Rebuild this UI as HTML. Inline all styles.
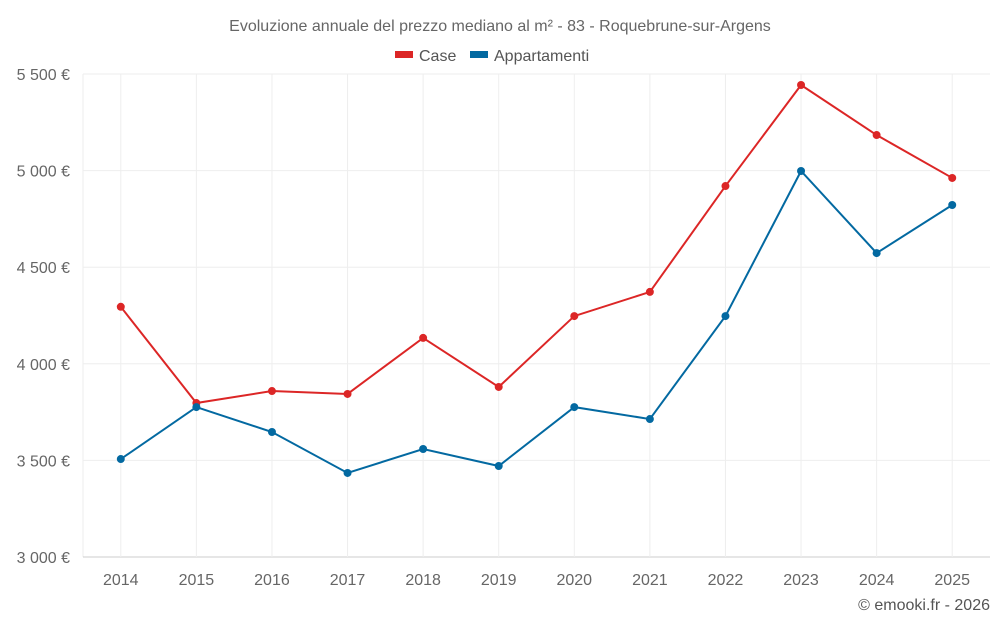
<!DOCTYPE html>
<html><head><meta charset="utf-8">
<style>
body{margin:0;background:#fff;font-family:"Liberation Sans",sans-serif;}
svg text{font-family:"Liberation Sans",sans-serif;}
</style></head>
<body>
<svg id="chart" width="1000" height="625" xmlns="http://www.w3.org/2000/svg">
<text x="500" y="31" text-anchor="middle" font-size="16" fill="#666">Evoluzione annuale del prezzo mediano al m² - 83 - Roquebrune-sur-Argens</text>
<g><rect x="395" y="51" width="18" height="7" fill="#dc2626"/><text x="419" y="61" font-size="16" fill="#555">Case</text></g>
<g><rect x="470" y="51" width="18" height="7" fill="#0369a1"/><text x="494" y="61" font-size="16" fill="#555">Appartamenti</text></g>
<g id="grid"></g><g id="axes"></g><g id="series"></g>
<text x="990" y="610" text-anchor="end" font-size="16" fill="#555">© emooki.fr - 2026</text>
</svg>
<script>
const years=["2014","2015","2016","2017","2018","2019","2020","2021","2022","2023","2024","2025"];
const caseValues=[4295,3797,3859,3844,4134,3880,4247,4372,4920,5443,5184,4962];
const apptValues=[3507,3776,3647,3435,3559,3471,3776,3714,4247,4998,4573,4822];
const yTicks=[3000,3500,4000,4500,5000,5500];
const yTickLabels=["3 000 €","3 500 €","4 000 €","4 500 €","5 000 €","5 500 €"];
const NS="http://www.w3.org/2000/svg";
const L=83,R=990,T=74,B=557,yMin=3000,yMax=5500;
const step=(R-L)/years.length;
function x(i){return L+step*(i+0.5);}
function y(v){return B-(v-yMin)/(yMax-yMin)*(B-T);}
function mk(tag,a,p){const e=document.createElementNS(NS,tag);for(const k in a)e.setAttribute(k,a[k]);p.appendChild(e);return e;}
const grid=document.getElementById('grid'),axes=document.getElementById('axes'),ser=document.getElementById('series');
const edge=mk('line',{x1:L,x2:L,y1:T,y2:B,stroke:'#eee'},grid);


yTicks.forEach((t,i)=>{
 const l=mk('line',{x1:L,x2:R,y1:y(t),y2:y(t),stroke:i===0?'#ccc':'#eee'},grid);
 
 
 const tx=mk('text',{x:70,y:y(t)+6,'text-anchor':'end','font-size':16,fill:'#666'},axes);
 tx.textContent=yTickLabels[i];
 
 
});
years.forEach((yr,i)=>{
 const l=mk('line',{x1:x(i),x2:x(i),y1:T,y2:B,stroke:'#eee'},grid);
 
 
 const tx=mk('text',{x:x(i),y:585,'text-anchor':'middle','font-size':16,fill:'#666'},axes);
 tx.textContent=yr;
 
 
});
function draw(vals,color,name){
 const p=mk('polyline',{points:vals.map((v,i)=>x(i)+','+y(v)).join(' '),fill:'none',stroke:color,'stroke-width':2},ser);
 
 
 vals.forEach((v,i)=>{
  const c=mk('circle',{cx:x(i),cy:y(v),r:4,fill:color},ser);
  
  
 });
}
draw(caseValues,'#dc2626','case');
draw(apptValues,'#0369a1','appartamenti');
</script>
</body></html>
